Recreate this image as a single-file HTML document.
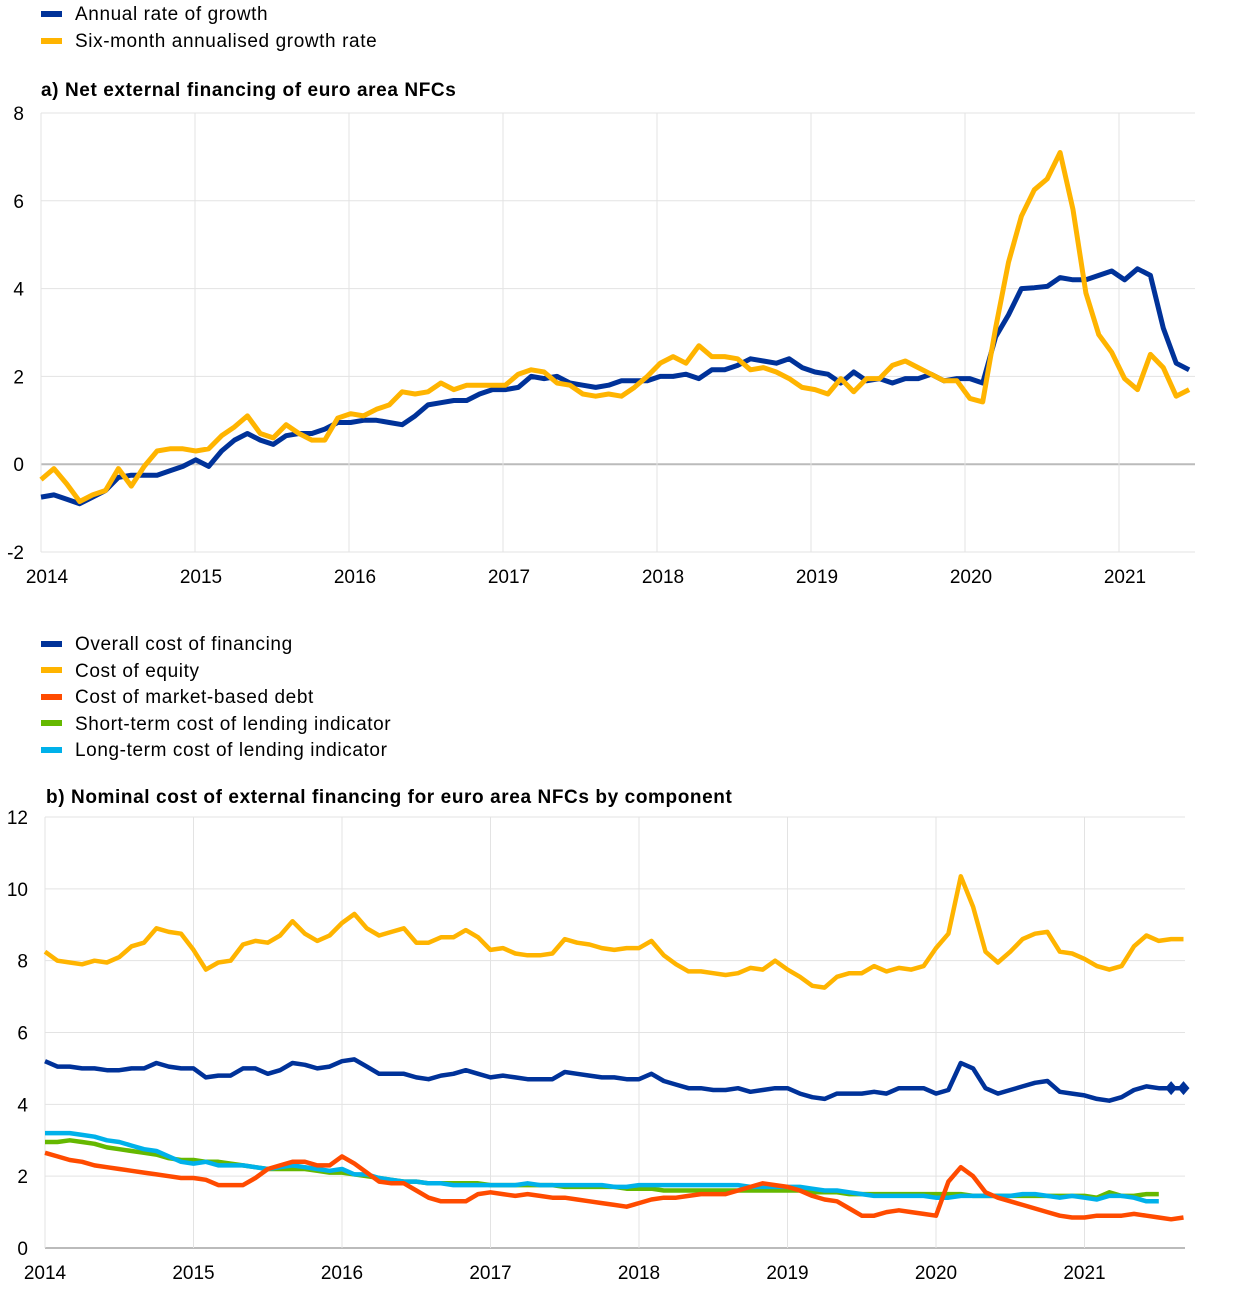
<!DOCTYPE html>
<html><head><meta charset="utf-8"><style>
html,body{margin:0;padding:0;background:#fff;}
svg{display:block;font-family:"Liberation Sans",Arial,sans-serif;}
</style></head><body>
<svg id="s" width="1240" height="1302" xmlns="http://www.w3.org/2000/svg">
<g font-size="19" fill="#000" letter-spacing="0.6">
<rect x="41" y="11" width="21" height="6" fill="#003299"/><text x="75" y="20">Annual rate of growth</text>
<rect x="41" y="38" width="21" height="6" fill="#ffb400"/><text x="75" y="47">Six-month annualised growth rate</text>
<text x="41" y="96" font-weight="bold">a) Net external financing of euro area NFCs</text>
<rect x="41" y="641" width="21" height="6" fill="#003299"/><text x="75" y="650">Overall cost of financing</text>
<rect x="41" y="667" width="21" height="6" fill="#ffb400"/><text x="75" y="677">Cost of equity</text>
<rect x="41" y="694" width="21" height="6" fill="#ff4b00"/><text x="75" y="703">Cost of market-based debt</text>
<rect x="41" y="720" width="21" height="6" fill="#65b800"/><text x="75" y="730">Short-term cost of lending indicator</text>
<rect x="41" y="747" width="21" height="6" fill="#00b1ea"/><text x="75" y="756">Long-term cost of lending indicator</text>
<text x="46" y="803" font-weight="bold">b) Nominal cost of external financing for euro area NFCs by component</text>
</g>
<g id="ga"></g><g id="gb"></g>
</svg>
<script>
var NS="http://www.w3.org/2000/svg";
function el(p,t,a,txt){var e=document.createElementNS(NS,t);for(var k in a)e.setAttribute(k,a[k]);if(txt!==undefined)e.textContent=txt;p.appendChild(e);return e;}
function chart(g,cfg){
 var y=function(v){return cfg.y0+(v-cfg.vmin)*(cfg.y1-cfg.y0)/(cfg.vmax-cfg.vmin);};
 for(var v=cfg.vmin;v<=cfg.vmax;v+=cfg.step){
  el(g,"line",{x1:cfg.x0,x2:cfg.x1,y1:y(v),y2:y(v),stroke:v==cfg.zero?"#bbb":"#e3e3e3","stroke-width":v==cfg.zero?2:1});
  el(g,"text",{x:cfg.lx,y:y(v)+7,"text-anchor":"end","font-size":19},String(v));
 }
 el(g,"line",{x1:cfg.x0,x2:cfg.x0,y1:cfg.y1,y2:cfg.y0,stroke:"#e3e3e3"});
 for(var i=0;i<8;i++){var x=cfg.x0+i*cfg.py;
  if(i>0)el(g,"line",{x1:x,x2:x,y1:cfg.y1,y2:cfg.y0,stroke:"#e3e3e3"});
  el(g,"text",{x:x+cfg.lo,y:cfg.ly,"text-anchor":"middle","font-size":19},String(2014+i));}
 cfg.series.forEach(function(s){
  var pts=s.d.map(function(v,i){return (cfg.x0+i*cfg.pm).toFixed(1)+","+y(v).toFixed(1);}).join(" ");
  el(g,"polyline",{points:pts,fill:"none",stroke:s.c,"stroke-width":cfg.w,"stroke-linejoin":"round"});
  if(s.m){s.m.forEach(function(i){var x=cfg.x0+i*cfg.pm,yy=y(s.d[i]);el(g,"polygon",{points:(x-6)+","+yy+" "+x+","+(yy-7)+" "+(x+6)+","+yy+" "+x+","+(yy+7),fill:s.c});});}
 });
}
chart(document.getElementById("ga"),{x0:41,x1:1195,y0:552,y1:113,vmin:-2,vmax:8,step:2,zero:0,lx:24,ly:583,lo:6,py:154,pm:12.9,w:5,series:[
{c:"#003299",d:[-0.75,-0.7,-0.8,-0.9,-0.75,-0.6,-0.3,-0.25,-0.25,-0.25,-0.15,-0.05,
0.1,-0.05,0.3,0.55,0.7,0.55,0.45,0.65,0.7,0.7,0.8,0.95,
0.95,1.0,1.0,0.95,0.9,1.1,1.35,1.4,1.45,1.45,1.6,1.7,
1.7,1.75,2.0,1.95,2.0,1.85,1.8,1.75,1.8,1.9,1.9,1.9,
2.0,2.0,2.05,1.95,2.15,2.15,2.25,2.4,2.35,2.3,2.4,2.2,
2.1,2.05,1.85,2.1,1.9,1.95,1.85,1.95,1.95,2.05,1.9,1.95,
1.95,1.85,2.9,3.4,4.0,4.02,4.05,4.25,4.2,4.2,4.3,4.4,
4.2,4.45,4.3,3.1,2.3,2.15]},
{c:"#ffb400",d:[-0.35,-0.1,-0.45,-0.85,-0.7,-0.6,-0.1,-0.5,-0.05,0.3,0.35,0.35,
0.3,0.35,0.65,0.85,1.1,0.7,0.6,0.9,0.7,0.55,0.55,1.05,
1.15,1.1,1.25,1.35,1.65,1.6,1.65,1.85,1.7,1.8,1.8,1.8,
1.8,2.05,2.15,2.1,1.85,1.8,1.6,1.55,1.6,1.55,1.75,2.0,
2.3,2.45,2.3,2.7,2.45,2.45,2.4,2.15,2.2,2.1,1.95,1.75,
1.7,1.6,1.95,1.65,1.95,1.95,2.25,2.35,2.2,2.05,1.9,1.9,
1.5,1.42,3.1,4.6,5.65,6.25,6.5,7.1,5.8,3.9,2.95,
2.55,1.95,1.7,2.5,2.2,1.55,1.7]}]});
chart(document.getElementById("gb"),{x0:45,x1:1185,y0:1248,y1:817,vmin:0,vmax:12,step:2,zero:0,lx:28,ly:1279,lo:0,py:148.5,pm:12.375,w:4.5,series:[
{c:"#ffb400",d:[8.25,8.0,7.95,7.9,8.0,7.95,8.1,8.4,8.5,8.9,8.8,8.75,
8.3,7.75,7.95,8.0,8.45,8.55,8.5,8.7,9.1,8.75,8.55,8.7,
9.05,9.3,8.9,8.7,8.8,8.9,8.5,8.5,8.65,8.65,8.85,8.65,
8.3,8.35,8.2,8.15,8.15,8.2,8.6,8.5,8.45,8.35,8.3,8.35,
8.35,8.55,8.15,7.9,7.7,7.7,7.65,7.6,7.65,7.8,7.75,8.0,
7.75,7.55,7.3,7.25,7.55,7.65,7.65,7.85,7.7,7.8,7.75,7.85,
8.35,8.75,10.35,9.5,8.25,7.95,8.25,8.6,8.75,8.8,8.25,8.2,
8.05,7.85,7.75,7.85,8.4,8.7,8.55,8.6,8.6]},
{c:"#003299",m:[91,92],d:[5.2,5.05,5.05,5.0,5.0,4.95,4.95,5.0,5.0,5.15,5.05,5.0,
5.0,4.75,4.8,4.8,5.0,5.0,4.85,4.95,5.15,5.1,5.0,5.05,
5.2,5.25,5.05,4.85,4.85,4.85,4.75,4.7,4.8,4.85,4.95,4.85,
4.75,4.8,4.75,4.7,4.7,4.7,4.9,4.85,4.8,4.75,4.75,4.7,
4.7,4.85,4.65,4.55,4.45,4.45,4.4,4.4,4.45,4.35,4.4,4.45,
4.45,4.3,4.2,4.15,4.3,4.3,4.3,4.35,4.3,4.45,4.45,4.45,
4.3,4.4,5.15,5.0,4.45,4.3,4.4,4.5,4.6,4.65,4.35,4.3,
4.25,4.15,4.1,4.2,4.4,4.5,4.45,4.45,4.45]},
{c:"#65b800",d:[2.95,2.95,3.0,2.95,2.9,2.8,2.75,2.7,2.65,2.6,2.5,2.45,
2.45,2.4,2.4,2.35,2.3,2.25,2.2,2.2,2.2,2.2,2.15,2.1,
2.1,2.05,2.0,1.95,1.9,1.85,1.85,1.8,1.8,1.8,1.8,1.8,
1.75,1.75,1.75,1.75,1.75,1.75,1.7,1.7,1.7,1.7,1.7,1.65,
1.65,1.65,1.6,1.6,1.6,1.6,1.6,1.6,1.6,1.6,1.6,1.6,
1.6,1.6,1.55,1.55,1.55,1.5,1.5,1.5,1.5,1.5,1.5,1.5,
1.5,1.5,1.5,1.45,1.45,1.45,1.45,1.45,1.45,1.45,1.45,1.45,
1.45,1.4,1.55,1.45,1.45,1.5,1.5]},
{c:"#00b1ea",d:[3.2,3.2,3.2,3.15,3.1,3.0,2.95,2.85,2.75,2.7,2.55,2.4,
2.35,2.4,2.3,2.3,2.3,2.25,2.2,2.25,2.3,2.25,2.2,2.15,
2.2,2.05,2.05,1.95,1.9,1.85,1.85,1.8,1.8,1.75,1.75,1.75,
1.75,1.75,1.75,1.8,1.75,1.75,1.75,1.75,1.75,1.75,1.7,1.7,
1.75,1.75,1.75,1.75,1.75,1.75,1.75,1.75,1.75,1.7,1.7,1.7,
1.7,1.7,1.65,1.6,1.6,1.55,1.5,1.45,1.45,1.45,1.45,1.45,
1.4,1.4,1.45,1.45,1.45,1.45,1.45,1.5,1.5,1.45,1.4,1.45,
1.4,1.35,1.45,1.45,1.4,1.3,1.3]},
{c:"#ff4b00",d:[2.65,2.55,2.45,2.4,2.3,2.25,2.2,2.15,2.1,2.05,2.0,1.95,
1.95,1.9,1.75,1.75,1.75,1.95,2.2,2.3,2.4,2.4,2.3,2.3,
2.55,2.35,2.1,1.85,1.8,1.8,1.6,1.4,1.3,1.3,1.3,1.5,
1.55,1.5,1.45,1.5,1.45,1.4,1.4,1.35,1.3,1.25,1.2,1.15,
1.25,1.35,1.4,1.4,1.45,1.5,1.5,1.5,1.6,1.7,1.8,1.75,
1.7,1.6,1.45,1.35,1.3,1.1,0.9,0.9,1.0,1.05,1.0,0.95,
0.9,1.85,2.25,2.0,1.55,1.4,1.3,1.2,1.1,1.0,0.9,0.85,
0.85,0.9,0.9,0.9,0.95,0.9,0.85,0.8,0.85]}]});
</script>
</body></html>
